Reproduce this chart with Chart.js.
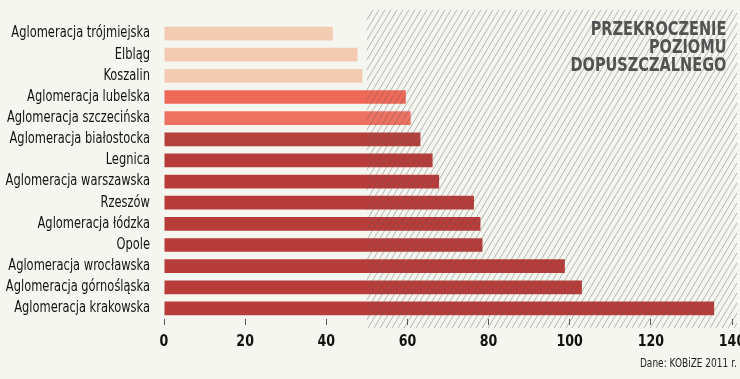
<!DOCTYPE html>
<html><head><meta charset="utf-8">
<script src="https://cdn.jsdelivr.net/npm/chart.js@4"></script>
<style>
html,body{margin:0;padding:0;background:#f6f6f1;}
#wrap{position:relative;width:740px;height:379px;overflow:hidden;}
canvas{position:absolute;left:0;top:0;}
.ttl{position:absolute;right:14px;top:19px;text-align:right;font-family:"DejaVu Sans Condensed","DejaVu Sans",sans-serif;font-weight:bold;font-size:19px;line-height:18px;color:#525252;transform:scaleX(0.85);transform-origin:right top;}
.src{position:absolute;right:3px;top:355px;font-family:"DejaVu Sans Condensed","DejaVu Sans",sans-serif;font-size:13px;color:#222;transform:scaleX(0.77);transform-origin:right top;}
</style></head>
<body><div id="wrap"><canvas id="c" width="740" height="379"></canvas>
<div class="ttl">PRZEKROCZENIE<br>POZIOMU<br>DOPUSZCZALNEGO</div>
<div class="src">Dane: KOBiZE 2011 r.</div></div>
<script>
const categories = ["Aglomeracja trójmiejska","Elbląg","Koszalin","Aglomeracja lubelska","Aglomeracja szczecińska","Aglomeracja białostocka","Legnica","Aglomeracja warszawska","Rzeszów","Aglomeracja łódzka","Opole","Aglomeracja wrocławska","Aglomeracja górnośląska","Aglomeracja krakowska"];
const values = [41.6, 47.7, 48.9, 59.6, 60.8, 63.2, 66.2, 67.8, 76.4, 78.0, 78.5, 98.8, 103.0, 135.6];
const barColors = ["#f3cbb3","#f3cbb3","#f3cbb3","#ef6959","#ee7262","#b5413c","#b83c39","#b83c39","#b83c39","#b83c39","#b83c39","#b83c39","#b83c39","#b83c39"];
const xTicks = [0,20,40,60,80,100,120,140];
const limitValue = 50;
const FONT = '"DejaVu Sans Condensed","DejaVu Sans",sans-serif';
const TEXT_SQUEEZE = 0.85;

const condensePlugin = {
  id:'condense',
  beforeDraw(chart){
    const ctx = chart.ctx;
    if (ctx._condensed) return;
    const orig = CanvasRenderingContext2D.prototype.fillText;
    ctx.fillText = function(t, x, y){
      this.save(); this.translate(x, y); this.scale(TEXT_SQUEEZE, 1);
      orig.call(this, t, 0, 0); this.restore();
    };
    ctx._condensed = true;
  }
};

const hatchPlugin = {
  id:'hatch',
  afterDatasetsDraw(chart){
    const ctx = chart.ctx, xs = chart.scales.x;
    const x0 = xs.getPixelForValue(limitValue), x1 = 737, y0 = 10, y1 = 328;
    ctx.save();
    ctx.beginPath(); ctx.rect(x0, y0, x1-x0, y1-y0); ctx.clip();
    ctx.strokeStyle = 'rgba(90,90,90,0.42)';
    ctx.lineWidth = 1;
    const dx = (y1-y0)*0.6;
    for(let x = x0 - dx; x < x1 + 10; x += 6){
      ctx.beginPath(); ctx.moveTo(x, y1); ctx.lineTo(x+dx, y0); ctx.stroke();
    }
    ctx.restore();
  }
};

new Chart(document.getElementById('c'), {
  type:'bar',
  data:{labels:categories, datasets:[{data:values, backgroundColor:barColors, borderWidth:0, barPercentage:0.65, categoryPercentage:1}]},
  options:{
    indexAxis:'y', responsive:false, animation:false,
    layout:{padding:{left:0,right:8,top:8,bottom:0}},
    plugins:{legend:{display:false}, tooltip:{enabled:false}},
    scales:{
      x:{min:0,max:140,
        afterBuildTicks(s){ s.ticks = xTicks.map(v=>({value:v})); },
        afterFit(s){ s.height = 60; s.paddingLeft = 0; s.paddingRight = 0; },
        grid:{drawOnChartArea:false, drawTicks:true, tickLength:6, tickColor:'#555', lineWidth:1},
        border:{display:false},
        ticks:{padding:7, color:'#111', font:{family:FONT, size:16.5, weight:'bold'}, maxRotation:0}
      },
      y:{
        afterFit(s){ s.width = 164; },
        grid:{display:false, drawTicks:false},
        border:{display:false},
        ticks:{padding:14, color:'#111', font:{family:FONT, size:15}, autoSkip:false}
      }
    }
  },
  plugins:[condensePlugin, hatchPlugin]
});
</script></body></html>
